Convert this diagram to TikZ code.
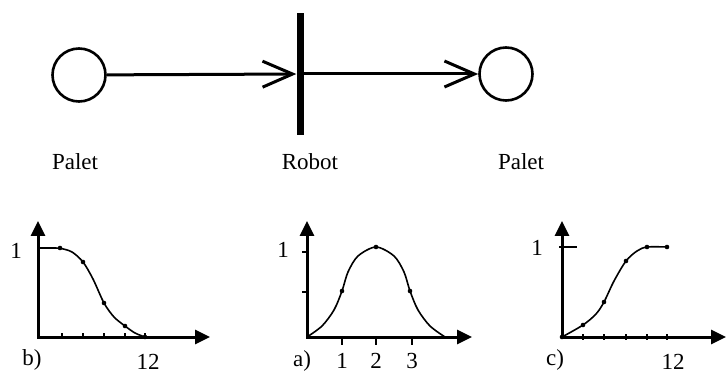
\documentclass[tikz,border=0pt]{standalone}
\usepackage{fontspec}
\setmainfont{Liberation Serif}
\usetikzlibrary{arrows.meta}
\begin{document}
\begin{tikzpicture}[x=1pt, y=-1pt,
      every node/.style={font=\fontsize{23}{26}\selectfont, inner sep=0pt},
      lugar/.style={draw, circle, line width=2.6pt, minimum size=53pt},
      transicion/.style={fill, minimum width=7pt, minimum height=122pt},
      flecha/.style={line width=3pt, -{Straight Barb[length=30pt, width=26pt, line width=3pt]}},
      eje/.style={line width=3pt, {Triangle[length=15pt, width=14pt]}-{Triangle[length=15pt, width=14pt]}},
      marca/.style={line width=1.6pt},
      curva/.style={line width=1.6pt}
    ]
    \useasboundingbox (0,0) rectangle (726,374);
    \node[lugar] (palet1) at (79,75) {};
    \node[transicion] (robot) at (300,74) {};
    \node[lugar] (palet2) at (506,74) {};
    \draw[flecha] (palet1) -- (robot);
    \draw[flecha] (robot) -- (palet2);
    \node (tpalet1) at (75,162) {Palet};
    \node (trobot)  at (310,162) {Robot};
    \node (tpalet2) at (521,162) {Palet};

    \draw[eje] (38,221) -- (38,337) -- (210,337);
    \foreach \x in {62,83,104,125,145} \draw[marca] (\x,337) -- (\x,333);
    \draw[curva] plot[smooth, tension=0.5] coordinates {(38,248) (50,248) (60,248.3) (72,252) (83,262) (93,279) (104,303) (114,317) (125,326) (135,333) (145,337)};
    \foreach \p in {(60,248),(83,262),(104,303),(125,326),(145,337)} \fill \p circle (2.3pt);
    \node (b1)  at (16,251) {1};
    \node (bb)  at (32,360) {b)};
    \node (b12) at (148,362) {12};

    \draw[eje] (307,221) -- (307,337) -- (472,337);
    \foreach \x in {342,376,412} \draw[marca] (\x,337) -- (\x,345);
    \foreach \y in {252,292} \draw[marca] (307,\y) -- (302,\y);
    \draw[curva] plot[smooth, tension=0.5] coordinates {(307,337) (322,326) (334,310) (342,291) (348,272) (358,256) (376,247) (394,256) (404,272) (410,291) (418,310) (430,326) (445,337)};
    \foreach \p in {(342,291),(376,247),(410,291)} \fill \p circle (2.3pt);
    \node (a1)  at (283,250) {1};
    \node (aa)  at (302,361) {a)};
    \node (ax1) at (342,361) {1};
    \node (ax2) at (376,361) {2};
    \node (ax3) at (412,361) {3};

    \draw[eje] (562,221) -- (562,337) -- (726,337);
    \foreach \x in {583,604,626,647,667} \draw[marca] (\x,334) -- (\x,340);
    \draw[marca] (559,247) -- (577,247);
    \draw[curva] plot[smooth, tension=0.5] coordinates {(562,337) (583,325) (596,314) (604,302) (614,281) (626,261) (637,251) (647,247) (667,247)};
    \foreach \p in {(562,337),(583,325),(604,302),(626,261),(647,247),(667,247)} \fill \p circle (2.3pt);
    \node (c1)  at (537,248) {1};
    \node (cc)  at (555,360) {c)};
    \node (c12) at (673,362) {12};
  \end{tikzpicture}
\end{document}
